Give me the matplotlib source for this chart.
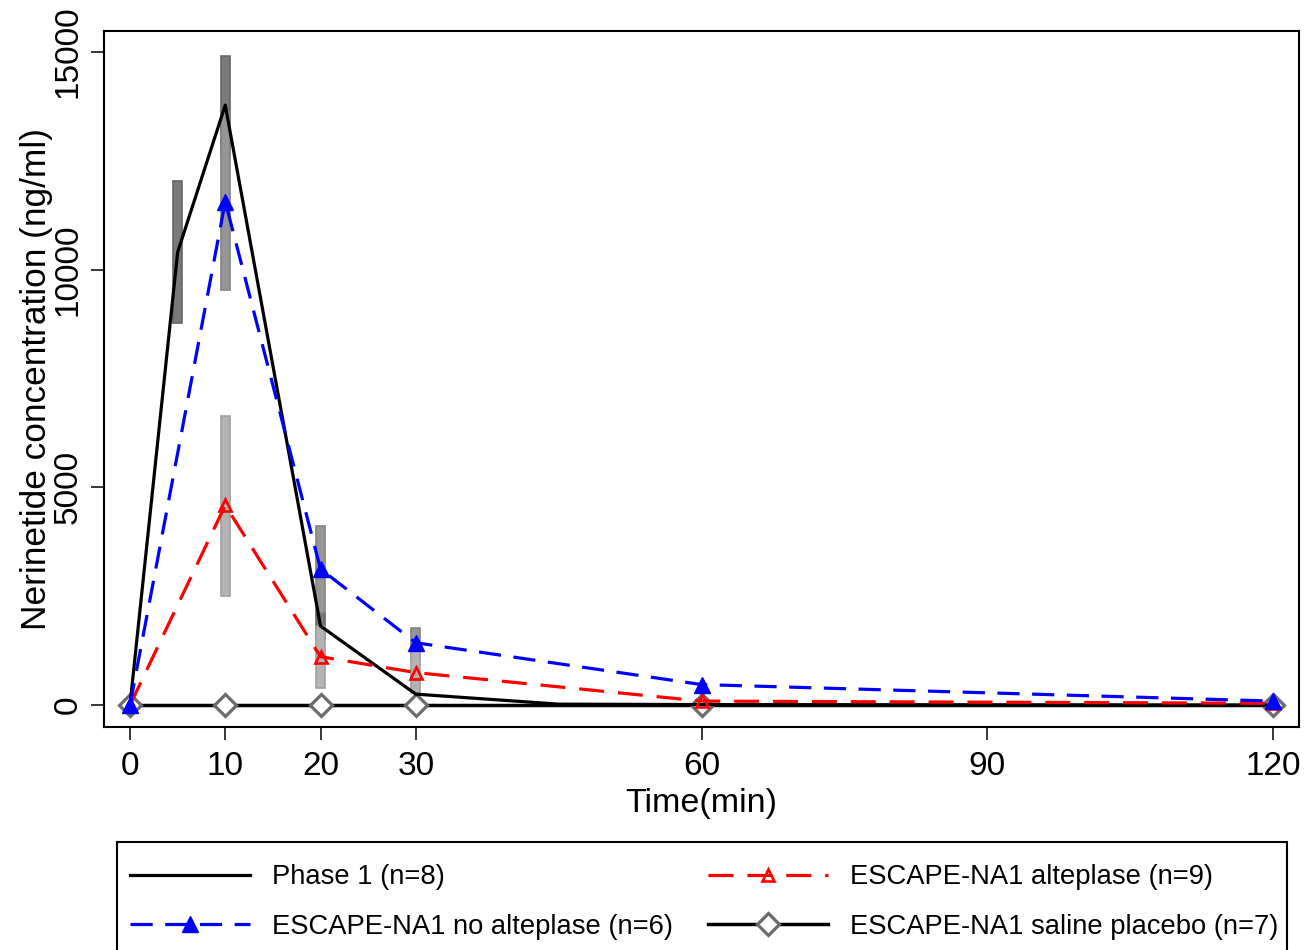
import matplotlib
matplotlib.use("Agg")
import matplotlib.pyplot as plt
from matplotlib.lines import Line2D
from matplotlib.patches import Rectangle

plt.rcParams['font.family'] = ['Liberation Sans', 'DejaVu Sans']
plt.rcParams['lines.scale_dashes'] = False

# ---------------- data ----------------
time_phase1 = [0, 5, 10, 20, 30, 45, 60, 120]
conc_phase1 = [0, 10400, 13780, 1815, 250, 20, 10, 0]

time_escape = [0, 10, 20, 30, 60, 120]
conc_no_alteplase = [0, 11565, 3125, 1430, 470, 90]
conc_alteplase = [0, 4590, 1110, 745, 90, 40]
conc_placebo = [0, 0, 0, 0, 0, 0]

phase1_err_time = [5, 10, 20]
phase1_err_low = [8775, 12650, 1515]
phase1_err_high = [12040, 14910, 2115]

noalt_err_time = [10, 20, 30]
noalt_err_low = [9530, 2110, 1084]
noalt_err_high = [13620, 4110, 1764]

alt_err_time = [10, 20, 30]
alt_err_low = [2500, 390, 275]
alt_err_high = [6650, 1810, 1245]

x_ticks = [0, 10, 20, 30, 60, 90, 120]
y_ticks = [0, 5000, 10000, 15000]

labels = ["Phase 1 (n=8)", "ESCAPE-NA1 no alteplase (n=6)",
          "ESCAPE-NA1 alteplase (n=9)", "ESCAPE-NA1 saline placebo (n=7)"]

# ---------------- figure ----------------
W, H = 1304, 950
fig = plt.figure(figsize=(W / 100, H / 100), dpi=100)
ax = fig.add_axes([104 / W, 1 - 727 / H, (1299 - 104) / W, (727 - 31) / H])

bar_w = 0.95


def draw_bars(times, lows, highs, fc, ec):
    heights = [h - l for l, h in zip(lows, highs)]
    ax.bar(times, heights, bottom=lows, width=bar_w, color=fc, edgecolor=ec,
           linewidth=1.2, zorder=1)


draw_bars(phase1_err_time, phase1_err_low, phase1_err_high, '#7a7a7a', '#666666')
draw_bars(noalt_err_time, noalt_err_low, noalt_err_high, '#969696', '#838383')
draw_bars(alt_err_time, alt_err_low, alt_err_high, '#b3b3b3', '#a0a0a0')

blue_dash = (16, 9)
red_dash = (18, 10)
lw_main = 2.3

# placebo
ax.plot(time_escape, conc_placebo, color='black', lw=2.5, marker='D',
        markersize=11, markerfacecolor='white', markeredgecolor='#6b6b6b',
        markeredgewidth=2.3, zorder=2)
# phase 1
ax.plot(time_phase1, conc_phase1, color='black', lw=lw_main, zorder=3)
# alteplase
ax.plot(time_escape, conc_alteplase, color='#ff0000', lw=lw_main, dashes=red_dash,
        marker='^', markersize=8, markerfacecolor='none', markeredgecolor='#ff0000',
        markeredgewidth=1.9, zorder=4)
# no alteplase
ax.plot(time_escape, conc_no_alteplase, color='#0000ff', lw=lw_main, dashes=blue_dash,
        marker='^', markersize=11, markerfacecolor='#0000ff', markeredgecolor='#0000ff',
        markeredgewidth=1, zorder=5)

ax.set_xlim(-2.73, 122.73)
ax.set_ylim(-505, 15483)
ax.set_xticks(x_ticks)
ax.set_xticklabels([str(t) for t in x_ticks])
ax.set_yticks(y_ticks)
ax.set_yticklabels([str(t) for t in y_ticks], rotation=90, va='center')

for s in ax.spines.values():
    s.set_linewidth(1.5)
ax.tick_params(axis='both', length=9.5, width=1.1, labelsize=24, direction='out')
ax.tick_params(axis='x', pad=8)
ax.tick_params(axis='y', pad=5)

ax.set_xlabel('Time(min)', fontsize=24.5)
ax.xaxis.set_label_coords(0.5, -(788 - 727) / 696)
ax.xaxis.label.set_verticalalignment('top')
ax.set_ylabel('Nerinetide concentration (ng/ml)', fontsize=25.4)
ax.yaxis.set_label_coords(-(104 - 53) / 1195, 0.5)

# legend (content positioned by anchor, frame drawn as a separate box)
handles = [
    Line2D([], [], color='black', lw=lw_main),
    Line2D([], [], color='#0000ff', lw=lw_main, dashes=blue_dash, marker='^', markersize=11,
           markerfacecolor='#0000ff', markeredgecolor='#0000ff'),
    Line2D([], [], color='#ff0000', lw=lw_main, dashes=red_dash, marker='^', markersize=8,
           markerfacecolor='none', markeredgecolor='#ff0000', markeredgewidth=1.9),
    Line2D([], [], color='black', lw=2.5, marker='D', markersize=11,
           markerfacecolor='white', markeredgecolor='#6b6b6b', markeredgewidth=2.3),
]
leg = fig.legend(handles, labels, ncol=2, loc='upper left',
                 bbox_to_anchor=(130 / W, 1 - 864.5 / H, (1278 - 130) / W, 0),
                 mode='expand', fontsize=19.7, frameon=False,
                 handlelength=4.4, handletextpad=0.78,
                 borderpad=0, labelspacing=0.85, columnspacing=1.4,
                 borderaxespad=0, numpoints=1)

fig.add_artist(Rectangle((117 / W, -0.05), (1287 - 117) / W, (1 - 842 / H) + 0.05,
                         transform=fig.transFigure, fill=False, edgecolor='black',
                         linewidth=1.5, clip_on=False))

fig.savefig('out.png', dpi=100)
